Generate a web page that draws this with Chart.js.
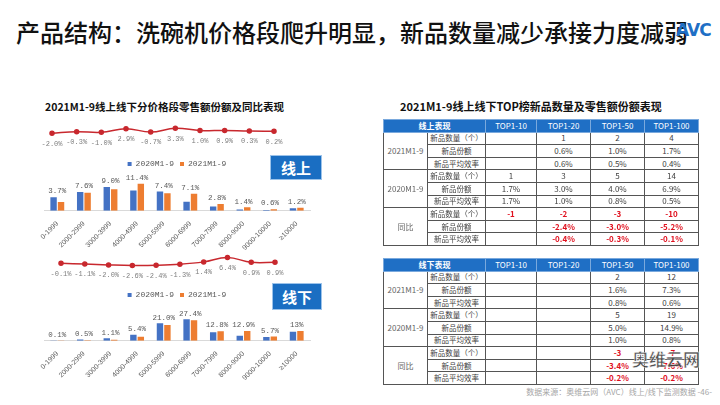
<!DOCTYPE html>
<html>
<head>
<meta charset="utf-8">
<script src="https://cdn.jsdelivr.net/npm/chart.js@4.4.0/dist/chart.umd.min.js"></script>
<style>
  body { margin: 0; width: 720px; height: 405px; background: #fff; position: relative; overflow: hidden;
         font-family: "Noto Sans CJK SC", sans-serif; }
  .abs { position: absolute; }
  #title { left: 16px; top: 16px; font-size: 24px; line-height: 32px; color: #111; font-weight: 500; white-space: nowrap; }
  #logo { left: 676px; top: 20px; font: bold 17px "DejaVu Sans", sans-serif; color: #1f6fc5; letter-spacing: -1px; }
  .sub { font-size: 10.5px; font-weight: bold; color: #111; white-space: nowrap; }
  .tag { background: #1a6ec2; color: #fff; font-size: 15px; font-weight: bold; text-align: center;
         border: 1px solid #9cc3ea; box-sizing: border-box; }
  table { border-collapse: collapse; table-layout: fixed; width: 315px; }
  td, th { height: 11.6px; padding: 0; font-size: 8px; line-height: 8px; text-align: center; color: #404040;
           border: 1px solid #555; font-weight: normal; white-space: nowrap; overflow: hidden; }
  th { background: #1f6fc5; color: #fff; border-color: #7aa9dd; }
  th.h { font-weight: bold; }
  td.g { color: #666; }
  td.m { font-size: 7.5px; }
  td.neg { color: #e0101e; font-weight: bold; }
  #foot { right: 8px; top: 386px; font-size: 8px; color: #a6a6a6; white-space: nowrap; }
  #wm { left: 632px; top: 346px; font-size: 17px; font-weight: bold; color: #333; white-space: nowrap;
        -webkit-text-stroke: 0.5px #fff; opacity: 0.85; }
</style>
</head>
<body>
<div id="title" class="abs">产品结构：洗碗机价格段爬升明显，新品数量减少承接力度减弱</div>
<div id="logo" class="abs">AVC</div>

<div class="abs sub" style="left:45px;top:99px;">2021M1-9线上线下分价格段零售额份额及同比表现</div>
<div class="abs" style="left:40px;top:115px;width:246px;height:40px;"><canvas id="onLine"></canvas></div>
<div class="abs" style="left:30px;top:154px;width:295px;height:99px;"><canvas id="onBar"></canvas></div>
<div class="abs tag" style="left:270px;top:155px;width:52px;height:25px;line-height:23px;">线上</div>

<div class="abs" style="left:49px;top:244px;width:238px;height:40px;"><canvas id="offLine"></canvas></div>
<div class="abs" style="left:30px;top:285px;width:295px;height:98px;"><canvas id="offBar"></canvas></div>
<div class="abs tag" style="left:272px;top:283px;width:50px;height:27px;line-height:25px;">线下</div>

<div class="abs sub" style="left:400px;top:98px;font-size:11px;">2021M1-9线上线下TOP榜新品数量及零售额份额表现</div>
<div class="abs" style="left:383px;top:119px;"><table id="tOn"></table></div>
<div class="abs" style="left:383px;top:258px;"><table id="tOff"></table></div>

<div id="wm" class="abs">奥维云网</div>
<div id="foot" class="abs">数据来源：奥维云网（AVC）线上/线下监测数据 -46-</div>

<script>
// price bands
const priceBands = ["0-1999", "2000-2999", "3000-3999", "4000-4999", "5000-5999", "6000-6999",
                    "7000-7999", "8000-9000", "9000-10000", "≥10000"];

// online share (%)
const online2020 = [5.7, 7.9, 10.0, 8.5, 8.1, 3.8, 1.8, 0.5, 0.3, 1.0];
const online2021 = [3.7, 7.6, 9.0, 11.4, 7.4, 7.1, 2.8, 1.4, 0.6, 1.2];
const online2021Text = ["3.7%", "7.6%", "9.0%", "11.4%", "7.4%", "7.1%", "2.8%", "1.4%", "0.6%", "1.2%"];
const onlineYoy = [-2.0, -0.3, -1.0, 2.9, -0.7, 3.3, 1.0, 0.9, 0.3, 0.2];

// offline share (%)
const offline2020 = [0.2, 1.6, 3.1, 8.0, 23.4, 28.7, 11.4, 6.5, 4.8, 12.1];
const offline2021 = [0.1, 0.5, 1.1, 5.4, 21.0, 27.4, 12.8, 12.9, 5.7, 13];
const offline2021Text = ["0.1%", "0.5%", "1.1%", "5.4%", "21.0%", "27.4%", "12.8%", "12.9%", "5.7%", "13%"];
const offlineYoy = [-0.1, -1.1, -2.0, -2.6, -2.4, -1.3, 1.4, 6.4, 0.9, 0.9];

// TOP tables
const topCols = ["TOP1-10", "TOP1-20", "TOP1-50", "TOP1-100"];
const metrics = ["新品数量（个）", "新品份额", "新品平均效率"];
const periods = ["2021M1-9", "2020M1-9", "同比"];
const onTop2021 = [["", "1", "2", "4"], ["", "0.6%", "1.0%", "1.7%"], ["", "0.6%", "0.5%", "0.4%"]];
const onTop2020 = [["1", "3", "5", "14"], ["1.7%", "3.0%", "4.0%", "6.9%"], ["1.7%", "1.0%", "0.8%", "0.5%"]];
const onTopYoy  = [["-1", "-2", "-3", "-10"], ["", "-2.4%", "-3.0%", "-5.2%"], ["", "-0.4%", "-0.3%", "-0.1%"]];
const offTop2021 = [["", "", "2", "12"], ["", "", "1.6%", "7.3%"], ["", "", "0.8%", "0.6%"]];
const offTop2020 = [["", "", "5", "19"], ["", "", "5.0%", "14.9%"], ["", "", "1.0%", "0.8%"]];
const offTopYoy  = [["", "", "-3", "-7"], ["", "", "-3.4%", "-7.6%"], ["", "", "-0.2%", "-0.2%"]];

const BLUE = "#4472c4";
const ORANGE = "#ed7d31";
const RED = "#c8282e";
const GREY = "#595959";

// labels under the yoy points
const pointLabels = {
  id: "pointLabels",
  afterDatasetsDraw(chart) {
    const ctx = chart.ctx;
    const ds = chart.data.datasets[0];
    ctx.save();
    ctx.font = "7px 'Liberation Mono', monospace";
    ctx.fillStyle = "#7f7f7f";
    ctx.textAlign = "center";
    ctx.textBaseline = "top";
    chart.getDatasetMeta(0).data.forEach((pt, i) => {
      ctx.fillText(ds.data[i].toFixed(1) + "%", pt.x, pt.y + 7);
    });
    ctx.restore();
  }
};

// one label on top of each price band
const barLabels = {
  id: "barLabels",
  afterDatasetsDraw(chart, args, opts) {
    const ctx = chart.ctx;
    const m0 = chart.getDatasetMeta(0).data;
    const m1 = chart.getDatasetMeta(1).data;
    ctx.save();
    ctx.font = "7.5px 'Liberation Mono', monospace";
    ctx.fillStyle = GREY;
    ctx.textAlign = "center";
    ctx.textBaseline = "bottom";
    m0.forEach((bar, i) => {
      const top = Math.min(bar.y, m1[i].y);
      ctx.fillText(opts.text[i], chart.scales.x.getPixelForValue(i), top - 2);
    });
    ctx.restore();
  }
};

function lineChart(id, values, yMin, yMax) {
  new Chart(document.getElementById(id), {
    type: "line",
    data: {
      labels: priceBands,
      datasets: [{
        data: values,
        borderColor: RED,
        backgroundColor: RED,
        borderWidth: 1.5,
        pointRadius: 2,
        tension: 0.4
      }]
    },
    options: {
      responsive: true,
      maintainAspectRatio: false,
      animation: false,
      layout: { padding: { left: 12, right: 12 } },
      plugins: { legend: { display: false }, tooltip: { enabled: false } },
      scales: {
        x: { display: false },
        y: { display: false, min: yMin, max: yMax }
      }
    },
    plugins: [pointLabels]
  });
}

function barChart(id, v2020, v2021, text, yMax) {
  new Chart(document.getElementById(id), {
    type: "bar",
    data: {
      labels: priceBands,
      datasets: [
        { label: "2020M1-9", data: v2020, backgroundColor: BLUE },
        { label: "2021M1-9", data: v2021, backgroundColor: ORANGE }
      ]
    },
    options: {
      responsive: true,
      maintainAspectRatio: false,
      animation: false,
      layout: { padding: { left: 14, right: 15 } },
      categoryPercentage: 0.56,
      barPercentage: 0.86,
      plugins: {
        legend: {
          position: "top",
          labels: {
            boxWidth: 4, boxHeight: 4, padding: 6,
            color: GREY,
            font: { size: 8, family: "'Liberation Mono', monospace" }
          }
        },
        tooltip: { enabled: false },
        barLabels: { text: text }
      },
      scales: {
        x: {
          grid: { display: false },
          border: { color: "#d9d9d9" },
          ticks: {
            color: GREY, minRotation: 45, maxRotation: 45, padding: 1,
            font: { size: 7, family: "'Liberation Sans', sans-serif" }
          }
        },
        y: { display: false, min: 0, max: yMax }
      }
    },
    plugins: [barLabels]
  });
}

lineChart("onLine", onlineYoy, -18.9, 11.4);
lineChart("offLine", offlineYoy, -17.4, 15.4);
barChart("onBar", online2020, online2021, online2021Text, 13.8);
barChart("offBar", offline2020, offline2021, offline2021Text, 42.7);

function buildTable(id, head, blocks) {
  const t = document.getElementById(id);
  let html = '<colgroup><col style="width:44px"><col style="width:58px"><col style="width:51px">' +
             '<col style="width:54px"><col style="width:54px"><col style="width:54px"></colgroup>';
  html += '<tr><th class="h" colspan="2">' + head + '</th>' + topCols.map(c => '<th>' + c + '</th>').join('') + '</tr>';
  blocks.forEach((rows, b) => {
    rows.forEach((row, r) => {
      html += '<tr>';
      if (r === 0) html += '<td class="g" rowspan="3">' + periods[b] + '</td>';
      html += '<td class="m">' + metrics[r] + '</td>';
      row.forEach(v => {
        html += '<td' + (v.startsWith('-') ? ' class="neg"' : '') + '>' + v + '</td>';
      });
      html += '</tr>';
    });
  });
  t.innerHTML = html;
}

buildTable("tOn", "线上表现", [onTop2021, onTop2020, onTopYoy]);
buildTable("tOff", "线下表现", [offTop2021, offTop2020, offTopYoy]);
</script>
</body>
</html>
